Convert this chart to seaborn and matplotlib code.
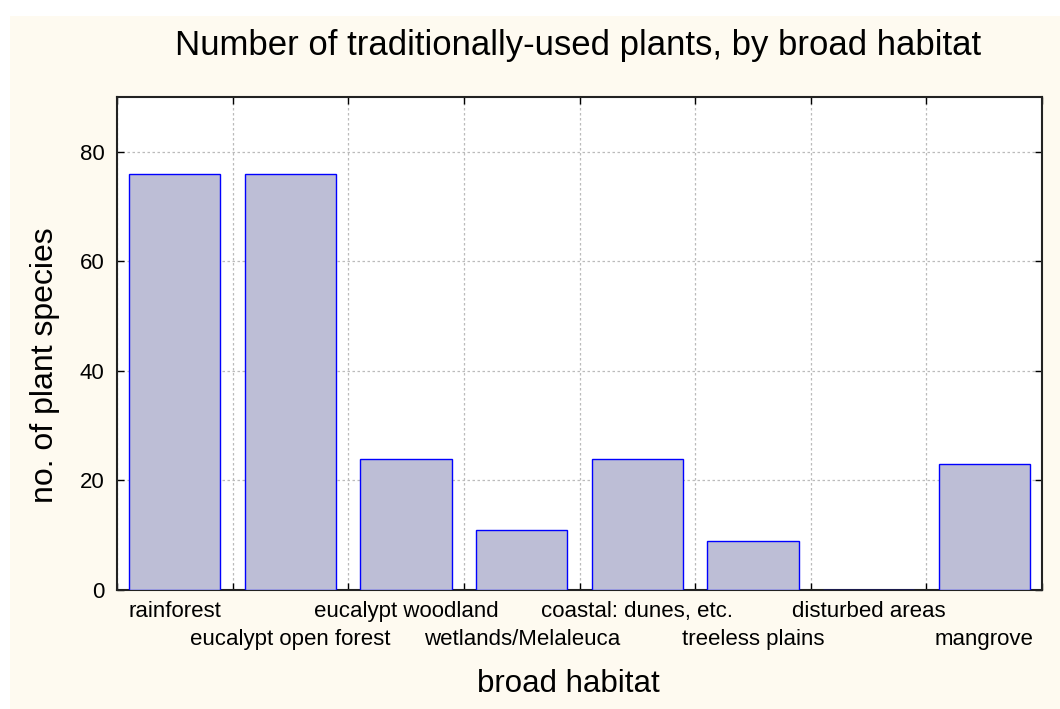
import matplotlib
matplotlib.use("Agg")
import matplotlib.pyplot as plt
from matplotlib.patches import Rectangle
from matplotlib.ticker import FixedLocator
import seaborn as sns
import pandas as pd

habitats = [
    "rainforest",
    "eucalypt open forest",
    "eucalypt woodland",
    "wetlands/Melaleuca",
    "coastal: dunes, etc.",
    "treeless plains",
    "disturbed areas",
    "mangrove",
]
species_counts = [76, 76, 24, 11, 24, 9, 0, 23]
y_ticks = [0, 20, 40, 60, 80]

df = pd.DataFrame({"habitat": habitats, "count": species_counts})

sns.set_style("white")
plt.rcParams["font.family"] = ["Liberation Sans", "DejaVu Sans"]
plt.rcParams.update({"text.color": "black", "axes.labelcolor": "black",
                     "xtick.color": "black", "ytick.color": "black"})

cream = "#FEFAF0"
fig = plt.figure(figsize=(10.6, 7.09), dpi=100, facecolor="white")
fig.patches.append(Rectangle((10 / 1060, 0), 1, 1 - 16 / 709,
                             transform=fig.transFigure, facecolor=cream,
                             edgecolor="none", zorder=-10))
ax = fig.add_axes([117 / 1060, 119 / 709, 925 / 1060, 493 / 709])
ax.set_facecolor("white")

sns.barplot(data=df, x="habitat", y="count", color="#BDBED6",
            edgecolor="#0000FF", linewidth=1.0, width=0.79, saturation=1,
            ax=ax, zorder=3)

n = len(habitats)
ax.set_xlim(-0.5, n - 0.5)
ax.set_ylim(0, 90)
ax.set_yticks(y_ticks)

# staggered category labels, ticks at the category boundaries
ax.set_xticks(range(n))
ax.set_xticklabels(habitats)
ax.xaxis.set_minor_locator(FixedLocator([i + 0.5 for i in range(-1, n)]))
ax.tick_params(axis="x", which="major", length=0, pad=8, labelsize=16)
for i, tick in enumerate(ax.xaxis.get_major_ticks()):
    if i % 2 == 1:
        tick.set_pad(28)
ax.tick_params(axis="x", which="minor", direction="in", length=5, width=1,
               color="black", top=True, bottom=True)
ax.tick_params(axis="y", which="major", direction="in", length=5, width=1,
               color="black", left=True, right=True, labelsize=16, pad=9)

ax.grid(False)
ax.xaxis.grid(True, which="minor", linestyle=(0, (2, 2)), color="#BBBBBB", linewidth=0.9)
ax.yaxis.grid(True, which="major", linestyle=(0, (2, 2)), color="#BBBBBB", linewidth=0.9)
ax.set_axisbelow(True)

for s in ax.spines.values():
    s.set_visible(True)
    s.set_color("#222222")
    s.set_linewidth(1.5)

ax.set_xlabel("")
ax.set_ylabel("")
fig.text(568 / 1060, 1 - 684 / 709, "broad habitat",
         ha="center", va="center", fontsize=22.5)
fig.text(45 / 1060, 1 - 365 / 709, "no. of plant species",
         ha="center", va="center", rotation=90, fontsize=23)
fig.text(578 / 1060, 1 - 46 / 709, "Number of traditionally-used plants, by broad habitat",
         ha="center", va="center", fontsize=25)

fig.savefig("out.png", dpi=100, facecolor=fig.get_facecolor())
plt.close(fig)
